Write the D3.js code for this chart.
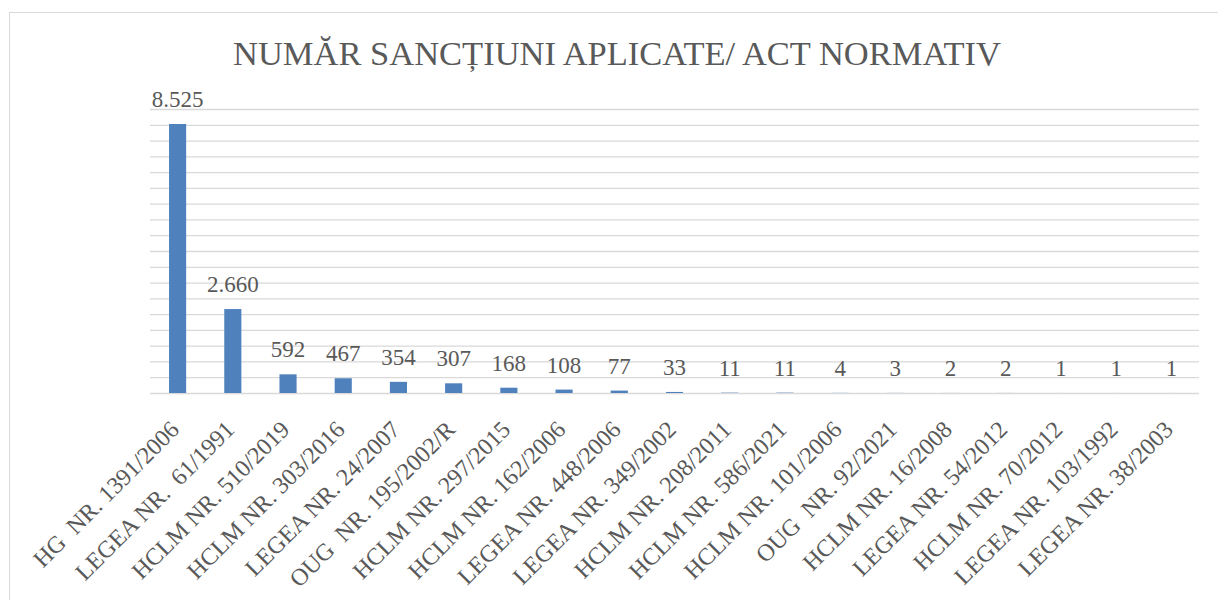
<!DOCTYPE html>
<html>
<head>
<meta charset="utf-8">
<script src="https://cdn.jsdelivr.net/npm/d3@7"></script>
<style>
  body { margin: 0; background: #fff; }
  text { font-family: "Liberation Serif", "DejaVu Serif", serif; fill: #595959; white-space: pre; }
</style>
</head>
<body>
<div id="chart"></div>
<script>
const categories = [
  "HG  NR. 1391/2006", "LEGEA NR.  61/1991", "HCLM NR. 510/2019", "HCLM NR. 303/2016",
  "LEGEA NR. 24/2007", "OUG  NR. 195/2002/R", "HCLM NR. 297/2015", "HCLM NR. 162/2006",
  "LEGEA NR. 448/2006", "LEGEA NR. 349/2002", "HCLM NR. 208/2011", "HCLM NR. 586/2021",
  "HCLM NR. 101/2006", "OUG  NR. 92/2021", "HCLM NR. 16/2008", "LEGEA NR. 54/2012",
  "HCLM NR. 70/2012", "LEGEA NR. 103/1992", "LEGEA NR. 38/2003"
];
const values = [8525, 2660, 592, 467, 354, 307, 168, 108, 77, 33, 11, 11, 4, 3, 2, 2, 1, 1, 1];
const yMax = 9000;
const yStep = 500;
const title = "NUMĂR SANCȚIUNI APLICATE/ ACT NORMATIV";

const width = 1218, height = 600;
const margin = { top: 109, right: 19, bottom: 207, left: 150 };
const innerW = width - margin.left - margin.right,
    innerH = height - margin.top - margin.bottom;

const ro = d3.formatLocale({ decimal: ",", thousands: ".", grouping: [3], currency: ["", " lei"] });
const fmt = ro.format(",d");

const svg = d3.select("#chart")
    .append("svg")
    .attr("width", width)
    .attr("height", height);

// chart border (cut off at right and bottom, like the source)
svg.append("rect")
    .attr("x", 9.5)
    .attr("y", 12.5)
    .attr("width", 1300)
    .attr("height", 700)
    .attr("fill", "none")
    .attr("stroke", "#d9d9d9")
    .attr("stroke-width", 1);

svg.append("text")
    .attr("x", 617)
    .attr("y", 65)
    .attr("text-anchor", "middle")
    .style("font-size", "34.5px")
    .text(title);

const g = svg.append("g")
    .attr("transform", "translate(" + margin.left + "," + margin.top + ")");

const x = d3.scaleBand()
    .domain(categories)
    .range([0, innerW])
    .paddingInner(0.69)
    .paddingOuter(0.345);

const y = d3.scaleLinear()
    .domain([0, yMax])
    .range([innerH, 0]);

// gridlines
const grid = g.append("g")
    .call(d3.axisLeft(y)
        .tickValues(d3.range(0, yMax + 1, yStep))
        .tickSize(-innerW)
        .tickFormat(""));
grid.select(".domain").remove();
grid.selectAll(".tick line")
    .attr("stroke", "#d9d9d9")
    .attr("stroke-width", 1.3);

// bars
g.selectAll("rect.bar")
    .data(values)
    .enter()
    .append("rect")
    .attr("class", "bar")
    .attr("x", (d, i) => x(categories[i]))
    .attr("y", d => y(d))
    .attr("width", x.bandwidth())
    .attr("height", d => innerH - y(d))
    .attr("fill", "#4f81bd");

// value labels
g.selectAll("text.val")
    .data(values)
    .enter()
    .append("text")
    .attr("class", "val")
    .attr("x", (d, i) => x(categories[i]) + x.bandwidth() / 2)
    .attr("y", d => y(d) - 17)
    .attr("text-anchor", "middle")
    .style("font-size", "23px")
    .text(d => fmt(d));

// category axis
const xAxis = g.append("g")
    .attr("transform", "translate(0," + innerH + ")")
    .call(d3.axisBottom(x).tickSize(0).tickPadding(0));
xAxis.select(".domain").remove();
xAxis.selectAll(".tick text")
    .attr("x", 0)
    .attr("y", 0)
    .attr("dy", 0)
    .attr("text-anchor", "end")
    .attr("fill", "#595959")
    .style("font-size", "24px")
    .style("font-family", "'Liberation Serif', serif")
    .attr("transform", "translate(3,38) rotate(-45)");
</script>
</body>
</html>
